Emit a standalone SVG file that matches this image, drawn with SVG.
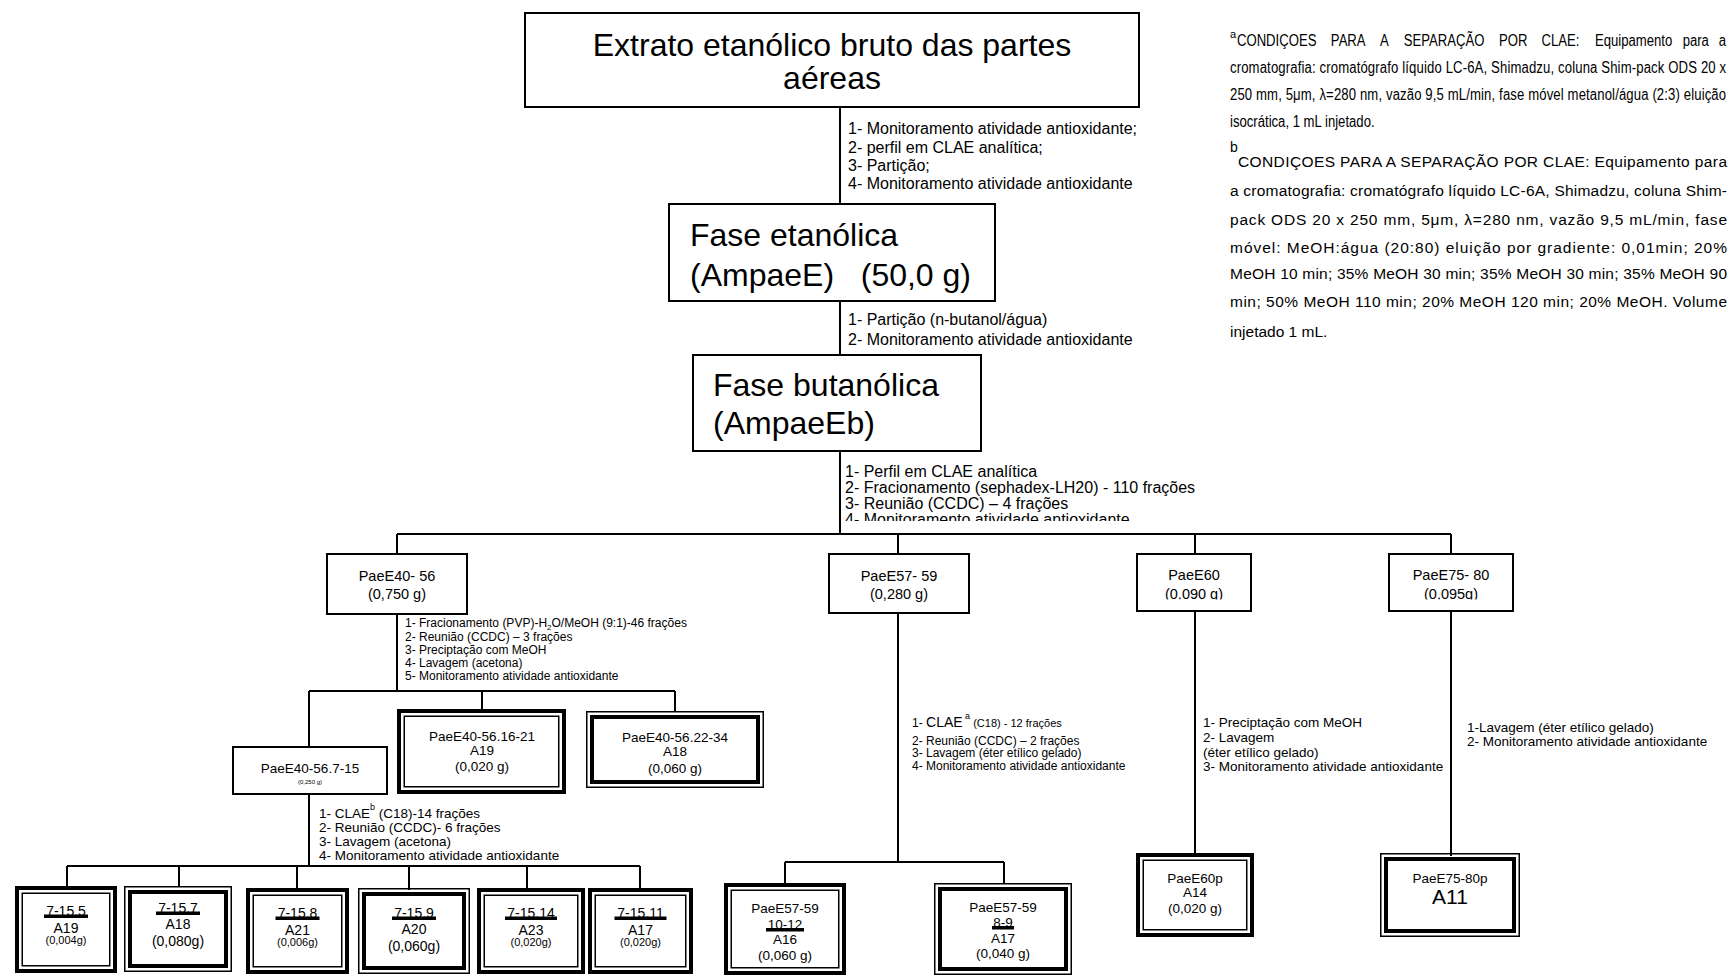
<svg xmlns="http://www.w3.org/2000/svg" width="1733" height="977" viewBox="0 0 1733 977">
<style>
text{font-family:"Liberation Sans",Arial,sans-serif;fill:#000}
.box{fill:#fff;stroke:#000;stroke-width:2}
.tk{fill:none;stroke:#000;stroke-width:4}
.tn{fill:none;stroke:#000;stroke-width:1.5}
.conn{stroke:#000;stroke-width:2;fill:none}
.big{font-size:32px}
.lb16{font-size:16px}
.lb12{font-size:12px}
.lb13{font-size:13.5px}
.n15{font-size:14.5px;text-anchor:middle}
.n13{font-size:13.5px;text-anchor:middle}
.n14{font-size:14px;text-anchor:middle}
.s11{font-size:11px;text-anchor:middle}
.bar{fill:#000}
.na{font-size:16px}
.nb{font-size:15.5px}
</style>
<defs>
<clipPath id="clipL3"><rect x="840" y="455" width="420" height="66"/></clipPath>
<clipPath id="clipE60"><rect x="1137" y="554" width="114" height="45.5"/></clipPath>
<clipPath id="clipE75"><rect x="1389" y="554" width="124" height="45.5"/></clipPath>
</defs>
<rect width="1733" height="977" fill="#fff"/>

<g id="connectors">
<path class="conn" d="M840 107V204M840 301V355M840 451V534M397 534H1451M397 534V554M898 534V554M1195 534V554M1451 534V554"/>
<path class="conn" d="M397 614V691M309 691H675M309 691V747M482 691V709M675 691V711"/>
<path class="conn" d="M309 794V866M67 866H640M67 866V886M179 866V886M297 866V890M409 866V890M527 866V890M640 866V888"/>
<path class="conn" d="M898 613V862M785 862H1004M785 862V883M1004 862V883"/>
<path class="conn" d="M1195 611V856M1451 611V856"/>
</g>

<g id="edge-labels">
<text class="lb16" x="848"><tspan x="848" y="134">1- Monitoramento atividade antioxidante;</tspan><tspan x="848" y="153">2- perfil em CLAE analítica;</tspan><tspan x="848" y="171">3- Partição;</tspan><tspan x="848" y="189">4- Monitoramento atividade antioxidante</tspan></text>
<text class="lb16"><tspan x="848" y="325">1- Partição (n-butanol/água)</tspan><tspan x="848" y="345">2- Monitoramento atividade antioxidante</tspan></text>
<text class="lb16" clip-path="url(#clipL3)"><tspan x="845" y="477">1- Perfil em CLAE analítica</tspan><tspan x="845" y="493">2- Fracionamento (sephadex-LH20) - 110 frações</tspan><tspan x="845" y="509">3- Reunião (CCDC) – 4 frações</tspan><tspan x="845" y="525">4- Monitoramento atividade antioxidante</tspan></text>
<text class="lb12"><tspan x="405" y="627">1- Fracionamento (PVP)-H<tspan font-size="8" dy="3">2</tspan><tspan dy="-3">O/MeOH (9:1)-46 frações</tspan></tspan><tspan x="405" y="641">2- Reunião (CCDC) – 3 frações</tspan><tspan x="405" y="654">3- Preciptação com MeOH</tspan><tspan x="405" y="667">4- Lavagem (acetona)</tspan><tspan x="405" y="680">5- Monitoramento atividade antioxidante</tspan></text>
<text class="lb13"><tspan x="319" y="818">1- CLAE<tspan font-size="9" dy="-8">b</tspan><tspan dy="8"> (C18)-14 frações</tspan></tspan><tspan x="319" y="832">2- Reunião (CCDC)- 6 frações</tspan><tspan x="319" y="846">3- Lavagem (acetona)</tspan><tspan x="319" y="860">4- Monitoramento atividade antioxidante</tspan></text>
<text class="lb12"><tspan x="912" y="727">1- <tspan font-size="14">CLAE</tspan><tspan font-size="9" dy="-8"> a</tspan><tspan font-size="11" dy="8">  (C18) - 12 frações</tspan></tspan><tspan x="912" y="745">2- Reunião (CCDC) – 2 frações</tspan><tspan x="912" y="757">3- Lavagem (éter etílico gelado)</tspan><tspan x="912" y="770">4- Monitoramento atividade antioxidante</tspan></text>
<text class="lb13"><tspan x="1203" y="727">1- Preciptação  com MeOH</tspan><tspan x="1203" y="742">2- Lavagem</tspan><tspan x="1203" y="757">(éter etílico gelado)</tspan><tspan x="1203" y="771">3- Monitoramento atividade antioxidante</tspan></text>
<text class="lb13"><tspan x="1467" y="732">1-Lavagem (éter etílico gelado)</tspan><tspan x="1467" y="746">2- Monitoramento atividade antioxidante</tspan></text>
</g>

<g id="n-extrato">
<rect class="box" x="525" y="13" width="614" height="94"/>
<text class="big" text-anchor="middle"><tspan x="832" y="56">Extrato etanólico bruto das partes</tspan><tspan x="832" y="89">aéreas</tspan></text>
</g>
<g id="n-fase-etanolica">
<rect class="box" x="669" y="204" width="326" height="97"/>
<text class="big"><tspan x="690" y="246">Fase etanólica</tspan><tspan x="690" y="286" xml:space="preserve">(AmpaeE)   (50,0 g)</tspan></text>
</g>
<g id="n-fase-butanolica">
<rect class="box" x="693" y="355" width="288" height="96"/>
<text class="big"><tspan x="713" y="396">Fase butanólica</tspan><tspan x="713" y="434">(AmpaeEb)</tspan></text>
</g>

<g id="n-PaeE40-56">
<rect class="box" x="327" y="554" width="140" height="60"/>
<text class="n15"><tspan x="397" y="581">PaeE40- 56</tspan><tspan x="397" y="599">(0,750 g)</tspan></text>
</g>
<g id="n-PaeE57-59">
<rect class="box" x="829" y="554" width="140" height="59"/>
<text class="n15"><tspan x="899" y="581">PaeE57- 59</tspan><tspan x="899" y="599">(0,280 g)</tspan></text>
</g>
<g id="n-PaeE60">
<rect class="box" x="1137" y="554" width="114" height="57"/>
<text class="n15" clip-path="url(#clipE60)"><tspan x="1194" y="580">PaeE60</tspan><tspan x="1194" y="599">(0,090 g)</tspan></text>
</g>
<g id="n-PaeE75-80">
<rect class="box" x="1389" y="554" width="124" height="57"/>
<text class="n15" clip-path="url(#clipE75)"><tspan x="1451" y="580">PaeE75- 80</tspan><tspan x="1451" y="599">(0,095g)</tspan></text>
</g>

<g id="n-PaeE40-56.7-15">
<rect class="box" x="233" y="747" width="154" height="47"/>
<text class="n13" x="310" y="773">PaeE40-56.7-15</text>
<text x="310" y="784" font-size="6" text-anchor="middle">(0,250  g)</text>
</g>
<g id="n-PaeE40-56.16-21">
<rect class="tk" x="399" y="711" width="165" height="81"/>
<rect class="tn" x="404.25" y="716.25" width="154.5" height="70.5"/>
<text class="n13"><tspan x="482" y="741">PaeE40-56.16-21</tspan><tspan x="482" y="755">A19</tspan><tspan x="482" y="771">(0,020 g)</tspan></text>
</g>
<g id="n-PaeE40-56.22-34">
<rect class="tn" x="586.75" y="711.75" width="176.5" height="75.5"/>
<rect class="tk" x="592" y="717" width="166" height="65"/>
<text class="n13"><tspan x="675" y="742">PaeE40-56.22-34</tspan><tspan x="675" y="756">A18</tspan><tspan x="675" y="773">(0,060 g)</tspan></text>
</g>

<g id="n-7-15.5">
<rect class="tk" x="17" y="888" width="98" height="83"/>
<rect class="tn" x="22.25" y="893.25" width="87.5" height="72.5"/>
<text class="n14" x="66" y="916">7-15.5</text><rect class="bar" x="44" y="914.5" width="44" height="3.5"/>
<text class="n14" x="66" y="933">A19</text>
<text class="s11" x="66" y="944">(0,004g)</text>
</g>
<g id="n-7-15.7">
<rect class="tn" x="124.75" y="886.75" width="106.5" height="84.5"/>
<rect class="tk" x="130" y="892" width="96" height="74"/>
<text class="n14" x="178" y="913">7-15.7</text><rect class="bar" x="156" y="911.5" width="44" height="3.5"/>
<text class="n14" x="178" y="929">A18</text>
<text class="n14" x="178" y="946">(0,080g)</text>
</g>
<g id="n-7-15.8">
<rect class="tk" x="248" y="890" width="99" height="82"/>
<rect class="tn" x="253.25" y="895.25" width="88.5" height="71.5"/>
<text class="n14" x="297.5" y="918">7-15.8</text><rect class="bar" x="275.5" y="916.5" width="44" height="3.5"/>
<text class="n14" x="297.5" y="935">A21</text>
<text class="s11" x="297.5" y="946">(0,006g)</text>
</g>
<g id="n-7-15.9">
<rect class="tn" x="358.75" y="888.75" width="110.5" height="84.5"/>
<rect class="tk" x="364" y="894" width="100" height="74"/>
<text class="n14" x="414" y="918">7-15.9</text><rect class="bar" x="392" y="916.5" width="44" height="3.5"/>
<text class="n14" x="414" y="934">A20</text>
<text class="n14" x="414" y="951">(0,060g)</text>
</g>
<g id="n-7-15.14">
<rect class="tk" x="479" y="890" width="104" height="82"/>
<rect class="tn" x="484.25" y="895.25" width="93.5" height="71.5"/>
<text class="n14" x="531" y="918">7-15.14</text><rect class="bar" x="505" y="916.5" width="52" height="3.5"/>
<text class="n14" x="531" y="935">A23</text>
<text class="s11" x="531" y="946">(0,020g)</text>
</g>
<g id="n-7-15.11">
<rect class="tk" x="590" y="890" width="101" height="82"/>
<rect class="tn" x="595.25" y="895.25" width="90.5" height="71.5"/>
<text class="n14" x="640.5" y="918">7-15.11</text><rect class="bar" x="614.5" y="916.5" width="52" height="3.5"/>
<text class="n14" x="640.5" y="935">A17</text>
<text class="s11" x="640.5" y="946">(0,020g)</text>
</g>

<g id="n-PaeE57-59.10-12">
<rect class="tk" x="726" y="885" width="118" height="88"/>
<rect class="tn" x="731.25" y="890.25" width="107.5" height="77.5"/>
<text class="n13" x="785" y="913">PaeE57-59</text>
<text class="n13" x="785" y="929">10-12</text><rect class="bar" x="766" y="928" width="38" height="3.5"/>
<text class="n13" x="785" y="944">A16</text>
<text class="n13" x="785" y="960">(0,060 g)</text>
</g>
<g id="n-PaeE57-59.8-9">
<rect class="tn" x="934.75" y="883.75" width="136.5" height="90.5"/>
<rect class="tk" x="940" y="889" width="126" height="80"/>
<text class="n13" x="1003" y="912">PaeE57-59</text>
<text class="n13" x="1003" y="927">8-9</text><rect class="bar" x="992" y="926" width="22" height="3.5"/>
<text class="n13" x="1003" y="943">A17</text>
<text class="n13" x="1003" y="958">(0,040 g)</text>
</g>
<g id="n-PaeE60p">
<rect class="tk" x="1138" y="855" width="114" height="80"/>
<rect class="tn" x="1143.25" y="860.25" width="103.5" height="69.5"/>
<text class="n13"><tspan x="1195" y="883">PaeE60p</tspan><tspan x="1195" y="897">A14</tspan><tspan x="1195" y="913">(0,020 g)</tspan></text>
</g>
<g id="n-PaeE75-80p">
<rect class="tn" x="1380.75" y="853.75" width="138.5" height="82.5"/>
<rect class="tk" x="1386" y="859" width="128" height="72"/>
<text class="n13" x="1450" y="883">PaeE75-80p</text>
<text x="1450" y="904" font-family="Liberation Serif,Times New Roman,serif" font-size="21" text-anchor="middle">A11</text>
</g>

<g id="notes">
<text x="1230" y="38" font-size="11">a</text>
<text class="na" transform="translate(1230,46) scale(0.82,1)"><tspan x="8.5" y="0">CONDIÇOES</tspan><tspan x="123" y="0">PARA</tspan><tspan x="183" y="0">A</tspan><tspan x="212" y="0">SEPARAÇÃO</tspan><tspan x="328" y="0">POR</tspan><tspan x="380" y="0">CLAE:</tspan><tspan x="445" y="0">Equipamento</tspan><tspan x="552" y="0">para</tspan><tspan x="596" y="0">a</tspan></text>
<text class="na" transform="translate(1230,73) scale(0.82,1)" x="0" y="0" textLength="605">cromatografia: cromatógrafo líquido LC-6A, Shimadzu, coluna Shim-pack ODS 20 x</text>
<text class="na" transform="translate(1230,100) scale(0.82,1)" x="0" y="0" textLength="605">250 mm, 5μm, λ=280 nm, vazão 9,5 mL/min, fase móvel metanol/água (2:3) eluição</text>
<text class="na" transform="translate(1230,127) scale(0.82,1)" x="0" y="0">isocrática, 1 mL injetado.</text>
<text x="1230" y="152" font-size="14">b</text>
<text class="nb" x="1238" y="167" textLength="489">CONDIÇOES PARA A SEPARAÇÃO POR CLAE: Equipamento para</text>
<text class="nb" x="1230" y="196" textLength="497">a cromatografia: cromatógrafo líquido LC-6A, Shimadzu, coluna Shim-</text>
<text class="nb" x="1230" y="225" textLength="497">pack ODS 20 x 250 mm, 5μm, λ=280 nm, vazão 9,5 mL/min, fase</text>
<text class="nb" x="1230" y="253" textLength="497">móvel: MeOH:água (20:80) eluição por gradiente: 0,01min; 20%</text>
<text class="nb" x="1230" y="279" textLength="497">MeOH 10 min; 35% MeOH 30 min; 35% MeOH 30 min; 35% MeOH 90</text>
<text class="nb" x="1230" y="307" textLength="497">min; 50% MeOH 110 min; 20% MeOH 120 min; 20% MeOH. Volume</text>
<text class="nb" x="1230" y="337">injetado 1 mL.</text>
</g>
</svg>
